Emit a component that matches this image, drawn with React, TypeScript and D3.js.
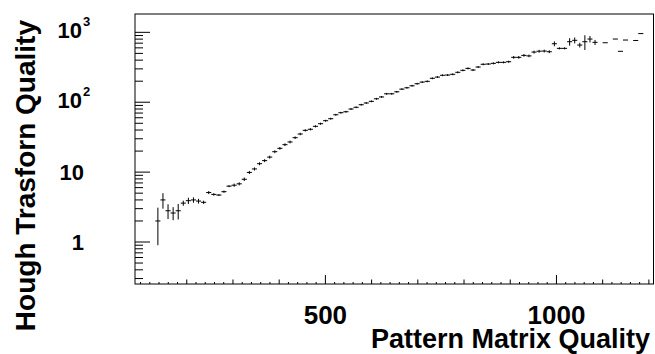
import React from "react";
import * as d3 from "d3";

// Profile bins: bin centres (Pattern Matrix Quality), mean Hough quality, error
const binCenters: number[] = [
  137.5, 148.5, 159.5, 170.5, 181.5, 192.5, 203.5, 214.5, 225.5, 236.5,
  247.5, 258.5, 269.5, 280.5, 291.5, 302.5, 313.5, 324.5, 335.5, 346.5,
  357.5, 368.5, 379.5, 390.5, 401.5, 412.5, 423.5, 434.5, 445.5, 456.5,
  467.5, 478.5, 489.5, 500.5, 511.5, 522.5, 533.5, 544.5, 555.5, 566.5,
  577.5, 588.5, 599.5, 610.5, 621.5, 632.5, 643.5, 654.5, 665.5, 676.5,
  687.5, 698.5, 709.5, 720.5, 731.5, 742.5, 753.5, 764.5, 775.5, 786.5,
  797.5, 808.5, 819.5, 830.5, 841.5, 852.5, 863.5, 874.5, 885.5, 896.5,
  907.5, 918.5, 929.5, 940.5, 951.5, 962.5, 973.5, 984.5, 995.5, 1006.5,
  1017.5, 1028.5, 1039.5, 1050.5, 1061.5, 1072.5, 1083.5, 1105.5, 1127.5, 1138.5,
  1149.5, 1171.5, 1182.5,
];
const values: number[] = [
  2.0, 4.0, 2.8, 2.6, 2.8, 3.6, 3.9, 4.0, 3.85, 3.7,
  5.1, 4.8, 4.7, 5.25, 6.3, 6.5, 6.8, 7.9, 9.9, 11.1,
  13.2, 14.6, 16.4, 19.6, 21.9, 24.7, 27.0, 31.1, 35.1, 39.6,
  41.0, 45.2, 49.3, 54.4, 58.1, 66.2, 70.8, 73.1, 80.0, 84.6,
  92.1, 97.5, 103, 112, 119, 132, 132, 141, 154, 161,
  172, 184, 194, 199, 220, 229, 243, 245, 251, 268,
  286, 305, 289, 319, 349, 352, 360, 372, 372, 380,
  439, 439, 468, 460, 522, 537, 540, 528, 687, 590,
  590, 734, 769, 658, 734, 802, 719, 710, 802, 535,
  776, 765, 960,
];
const errors: number[] = [
  1.1, 1.0, 0.67, 0.55, 0.7, 0.3, 0.4, 0.35, 0.3, 0.2,
  0.25, 0.2, 0.15, 0.2, 0.2, 0.35, 0.35, 0.45, 0.5, 0.55,
  0.65, 0.7, 0.8, 0.9, 1.0, 1.1, 1.2, 1.3, 1.4, 1.5,
  1.5, 1.6, 1.7, 1.7, 1.8, 2.0, 2.1, 2.2, 2.4, 2.5,
  2.8, 2.9, 3.1, 3.4, 3.6, 4.0, 4.0, 4.2, 4.6, 4.8,
  5.2, 5.5, 5.8, 6.0, 6.6, 7.0, 7.5, 7.5, 7.8, 8.5,
  9, 10, 10, 10, 11, 11, 12, 12, 12, 13,
  20, 20, 20, 20, 25, 25, 25, 25, 55, 20,
  20, 90, 75, 50, 175, 85, 60, 0, 0, 0,
  0, 0, 0,
];
const binWidth = 11;

const xDomain: [number, number] = [88, 1210];
const yDomain: [number, number] = [0.2507, 1830];

const xMajorTicks: number[] = [500, 1000];
const xMajorLabels: string[] = ["500", "1000"];
const yDecades: number[] = [1, 10, 100, 1000];

const xTitle = "Pattern Matrix Quality";
const yTitle = "Hough Trasforn Quality";

const W = 655;
const H = 354;
const L = 135;
const R = 653.5;
const T = 14;
const B = 284;

const FONT = "'Liberation Sans', Arial, Helvetica, sans-serif";

export default function App() {
  const x = d3.scaleLinear().domain(xDomain).range([L, R]);
  const y = d3.scaleLog().domain(yDomain).range([B, T]);

  const xTicks: { v: number; len: number }[] = [];
  for (let v = 100; v <= 1200; v += 20) {
    let len = 2;
    if (v % 500 === 0) len = 9;
    else if (v % 100 === 0 && v >= 200) len = 4.5;
    xTicks.push({ v, len });
  }

  const yTicks: { v: number; len: number }[] = [];
  for (let e = -1; e <= 3; e++) {
    for (let m = 1; m <= 9; m++) {
      const v = m * Math.pow(10, e);
      if (v < yDomain[0] || v > yDomain[1]) continue;
      yTicks.push({ v, len: m === 1 ? 15 : 8 });
    }
  }

  const ylo = (v: number) => Math.max(v, yDomain[0]);

  return (
    <svg
      width={W}
      height={H}
      style={{ position: "absolute", left: 0, top: 0, background: "#fff" }}
      fontFamily={FONT}
      fontWeight="bold"
    >
      <rect x={0} y={0} width={W} height={H} fill="#fff" />
      <rect x={L} y={T} width={R - L} height={B - T} fill="none" stroke="#000" strokeWidth={1} />
      {xTicks.map((t, i) => (
        <line key={"xt" + i} x1={x(t.v)} x2={x(t.v)} y1={B} y2={B - t.len} stroke="#000" strokeWidth={1} />
      ))}
      {yTicks.map((t, i) => (
        <line key={"yt" + i} x1={L} x2={L + t.len} y1={y(t.v)} y2={y(t.v)} stroke="#000" strokeWidth={1} />
      ))}
      {xMajorTicks.map((v, i) => (
        <text key={"xl" + i} x={x(v)} y={324} fontSize={26} textAnchor="middle" fill="#000">
          {xMajorLabels[i]}
        </text>
      ))}
      {yDecades.map((v, i) => {
        const py = y(v);
        const exp = Math.round(Math.log10(v));
        if (exp <= 1) {
          return (
            <text key={"yl" + i} x={84} y={py + 8} fontSize={22} textAnchor="end" fill="#000">
              {String(v)}
            </text>
          );
        }
        return (
          <g key={"yl" + i}>
            <text x={82} y={py + 5.5} fontSize={22} textAnchor="end" fill="#000">10</text>
            <text x={83} y={py - 6} fontSize={13} textAnchor="start" fill="#000">{String(exp)}</text>
          </g>
        );
      })}
      <text x={650} y={348} fontSize={27} textAnchor="end" fill="#000">{xTitle}</text>
      <text transform="translate(35,20) rotate(-90)" fontSize={28} textAnchor="end" fill="#000">{yTitle}</text>
      {binCenters.map((c, i) => {
        const v = values[i];
        const e = errors[i];
        const px = x(c);
        const py = y(v);
        return (
          <g key={"p" + i} stroke="#000" strokeWidth={1}>
            <line x1={x(c - binWidth / 2)} x2={x(c + binWidth / 2)} y1={py} y2={py} />
            {e > 0 && <line x1={px} x2={px} y1={y(ylo(v - e))} y2={y(v + e)} />}
          </g>
        );
      })}
    </svg>
  );
}
